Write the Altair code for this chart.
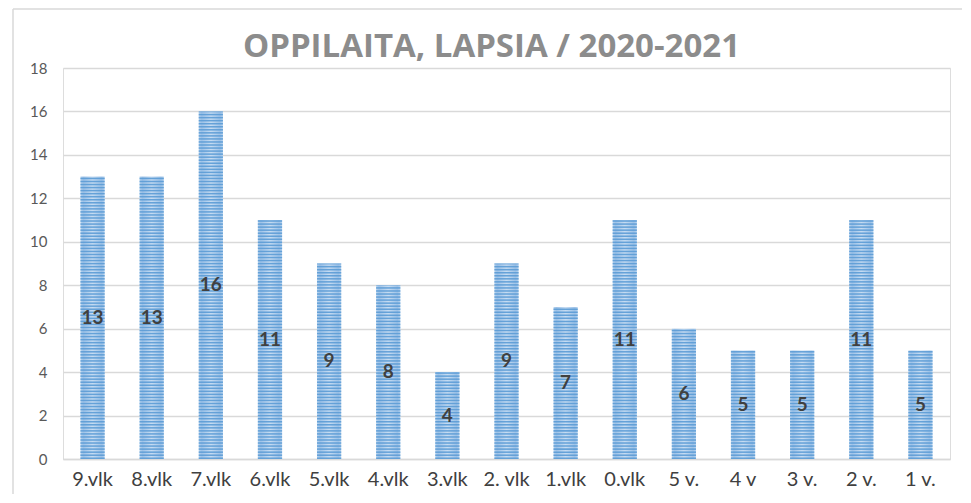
import altair as alt
import pandas as pd

categories = ["9.vlk", "8.vlk", "7.vlk", "6.vlk", "5.vlk", "4.vlk", "3.vlk",
              "2. vlk", "1.vlk", "0.vlk", "5 v.", "4 v", "3 v.", "2 v.", "1 v."]
values = [13, 13, 16, 11, 9, 8, 4, 9, 7, 11, 6, 5, 5, 11, 5]
y_ticks = [0, 2, 4, 6, 8, 10, 12, 14, 16, 18]
title_text = "OPPILAITA, LAPSIA / 2020-2021"

df = pd.DataFrame({"cat": categories, "val": values})
df["mid"] = df["val"] / 2

# horizontal stripe pattern inside each bar (built from the values)
period = 0.14
rows = []
for c, v in zip(categories, values):
    k = 0
    while k * period < v:
        lo = k * period
        hi = min(lo + period * 0.5, v)
        rows.append({"cat": c, "lo": lo, "hi": hi})
        k += 1
stripes = pd.DataFrame(rows)

FONT = "Lato"
W, H = 887, 391
PAD = {"left": 55, "top": 60, "right": 12, "bottom": 35}

xscale = alt.Scale(domain=categories, paddingInner=0.59, paddingOuter=0.295)
yscale = alt.Scale(domain=[0, 18], nice=False)

x_enc = alt.X("cat:N", scale=xscale, sort=categories, title=None,
              axis=alt.Axis(labelAngle=0, labelFont=FONT, labelFontSize=20,
                            labelColor="#404040", labelPadding=10, ticks=False,
                            domainColor="#d9d9d9", domainWidth=1.5))
y_enc = alt.Y("val:Q", scale=yscale, title=None,
              axis=alt.Axis(values=y_ticks, labelFont=FONT, labelFontSize=15,
                            labelColor="#595959", labelPadding=16, ticks=False,
                            domain=False, gridColor="#d9d9d9", gridWidth=1.5))

one = pd.DataFrame({"a": [0]})
frame_left = alt.Chart(one).mark_rule(color="#d9d9d9", strokeWidth=1.5).encode(
    x=alt.value(-50), y=alt.value(-59), y2=alt.value(H + PAD["bottom"]))
frame_top = alt.Chart(one).mark_rule(color="#d9d9d9", strokeWidth=1.5).encode(
    x=alt.value(-50), x2=alt.value(W + PAD["right"]), y=alt.value(-59))

title = alt.Chart(pd.DataFrame({"t": [title_text]})).mark_text(
    font="Open Sans", fontSize=33, fontWeight="bold", color="#8c8c8c",
    align="center", baseline="alphabetic"
).encode(x=alt.value(W / 2 - 15), y=alt.value(-11), text="t:N")

bars = alt.Chart(df).mark_bar(
    color=alt.Gradient(
        gradient="linear", x1=0, x2=1, y1=0, y2=0,
        stops=[alt.GradientStop(color="#b9d4ee", offset=0),
               alt.GradientStop(color="#9fc3e8", offset=0.12),
               alt.GradientStop(color="#c6dcf2", offset=0.5),
               alt.GradientStop(color="#9fc3e8", offset=0.88),
               alt.GradientStop(color="#b9d4ee", offset=1)])
).encode(x=x_enc, y=y_enc)

stripe_layer = alt.Chart(stripes).mark_bar(color="#5b9bd5", opacity=0.9).encode(
    x=alt.X("cat:N", scale=xscale, sort=categories),
    y=alt.Y("lo:Q", scale=yscale),
    y2="hi:Q",
)

labels = alt.Chart(df).mark_text(
    font=FONT, fontSize=19, fontWeight="bold", color="#404040", baseline="middle"
).encode(
    x=alt.X("cat:N", scale=xscale, sort=categories),
    y=alt.Y("mid:Q", scale=yscale),
    text="val:Q",
)

chart = alt.layer(frame_left, frame_top, title, bars, stripe_layer, labels).properties(
    width=W, height=H,
).configure_view(strokeWidth=0, strokeOpacity=0).configure(
    autosize=alt.AutoSizeParams(type="none"),
    padding=PAD,
)

chart.save("out.html", embed_options={"renderer": "svg", "actions": False})
